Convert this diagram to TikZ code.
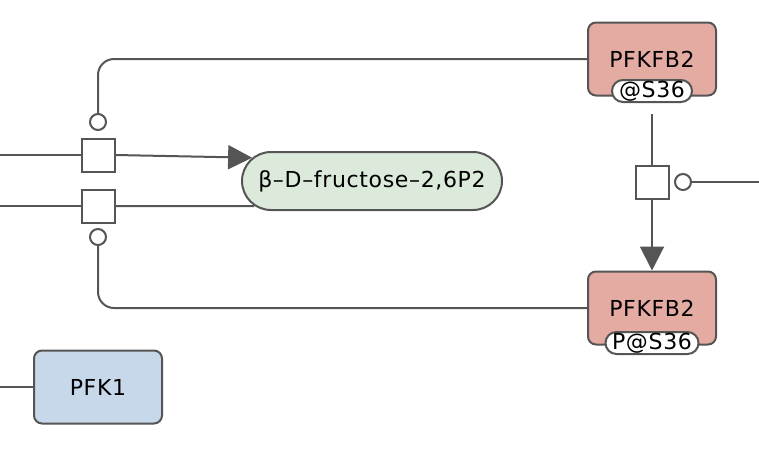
\documentclass[tikz,border=0pt]{standalone}
\usepackage{fontspec}
\setmainfont[LetterSpace=3]{DejaVu Sans}
\usetikzlibrary{arrows.meta,shapes.misc}
\definecolor{edgegray}{RGB}{85,85,85}
\definecolor{macrored}{RGB}{228,171,163}
\definecolor{simplegreen}{RGB}{220,234,220}
\definecolor{macroblue}{RGB}{199,216,234}

\begin{document}
\begin{tikzpicture}[x=1pt,y=-1pt,
    font=\fontsize{22}{26}\selectfont,
    line/.style={draw=edgegray,line width=2pt},
    macro/.style={draw=edgegray,line width=2pt,rounded corners=8pt,
        minimum width=128pt,minimum height=73pt,inner sep=0pt},
    site/.style={rounded rectangle,draw=edgegray,line width=2pt,fill=white,
        minimum width=80pt,minimum height=22pt,inner sep=0pt},
    simple/.style={rounded rectangle,draw=edgegray,line width=2pt,fill=simplegreen,
        minimum width=260pt,minimum height=58pt,inner sep=0pt},
    procbox/.style={draw=edgegray,line width=2pt,fill=white,
        minimum size=33pt,inner sep=0pt},
    modcirc/.style={circle,draw=edgegray,line width=2pt,fill=white,
        minimum size=16pt,inner sep=0pt},
    prod/.style={line,-{Triangle[length=24pt,width=24pt]}}]
    \useasboundingbox (0,0) rectangle (759,448);

    \node[macro,fill=macrored] (pfkfbA) at (652,59) {PFKFB2};
    \node[site] (siteA) at (652,91) {@S36};
    \node[macro,fill=macrored] (pfkfbB) at (652,308) {PFKFB2};
    \node[site] (siteB) at (652,343) {P@S36};
    \node[simple] (fbp) at (372,181) {β–D–fructose–2,6P2};
    \node[macro,fill=macroblue] (pfk) at (98,387) {PFK1};

    \node[procbox] (procA) at (98,155) {};
    \node[procbox] (procB) at (98,206) {};
    \node[procbox] (procC) at (652,182) {};
    \node[modcirc] (modA) at (98,122) {};
    \node[modcirc] (modB) at (98,237) {};
    \node[modcirc] (modC) at (683,182) {};

    \coordinate (inA) at (0,155);
    \coordinate (inB) at (0,206);
    \coordinate (outC) at (759,182);
    \coordinate (inK) at (0,387);

    \draw[line] (inA) -- (procA.west);
    \draw[prod] (procA.east) -- (fbp.169);
    \draw[line] (inB) -- (procB.west);
    \draw[line] (procB.east) -- (fbp.192);
    \draw[line,rounded corners=16pt] (pfkfbA.west) -| (modA.north);
    \draw[line,rounded corners=16pt] (pfkfbB.west) -| (modB.south);

    \draw[line,shorten <=11pt] (siteA.south) -- (procC.north);
    \draw[prod] (procC.south) -- (pfkfbB.north);
    \draw[line] (modC.east) -- (outC);

    \draw[line] (inK) -- (pfk.west);
\end{tikzpicture}
\end{document}
